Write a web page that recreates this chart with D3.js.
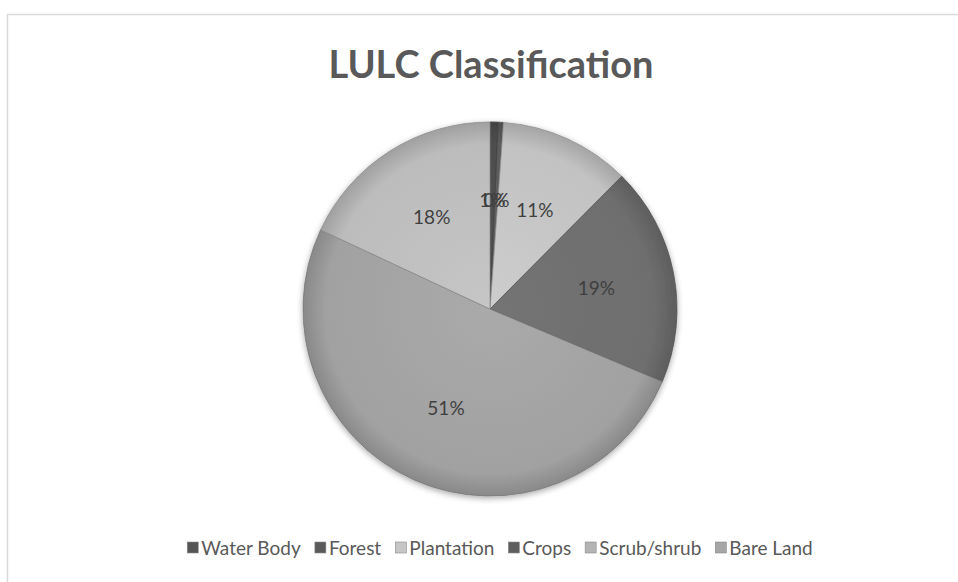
<!DOCTYPE html>
<html>
<head>
<meta charset="utf-8">
<script src="https://cdn.jsdelivr.net/npm/d3@7"></script>
<style>
  html, body { margin: 0; padding: 0; background: #fff; }
  #chart { width: 958px; height: 582px; overflow: hidden; }
</style>
</head>
<body>
<div id="chart"></div>
<script>
const categories = ["Water Body", "Forest", "Plantation", "Crops", "Scrub/shrub", "Bare Land"];
const shares = [0.7, 0.45, 11.3, 18.9, 50.6, 18.05];
const sliceColors = ["#4e4e4e", "#5c5c5c", "#c2c2c2", "#6e6e6e", "#a1a1a1", "#bcbcbc"];
const swatchColors = ["#555555", "#5a5a5a", "#c6c6c6", "#5e5e5e", "#b4b4b4", "#a6a6a6"];

const width = 958, height = 582;
const cx = 490, cy = 309, radius = 187;

const svg = d3.select("#chart")
  .append("svg")
  .attr("width", width)
  .attr("height", height);

const defs = svg.append("defs");

// soft shadow under the pie
const shadow = defs.append("filter").attr("id", "shadow")
  .attr("x", "-20%").attr("y", "-20%").attr("width", "140%").attr("height", "140%");
shadow.append("feGaussianBlur").attr("in", "SourceAlpha").attr("stdDeviation", 3);
shadow.append("feOffset").attr("dx", 0).attr("dy", 2).attr("result", "blur");
shadow.append("feComponentTransfer").append("feFuncA").attr("type", "linear").attr("slope", 0.35);
const merge = shadow.append("feMerge");
merge.append("feMergeNode");
merge.append("feMergeNode").attr("in", "SourceGraphic");

// one radial gradient per slice, lighter middle, darker rim
sliceColors.forEach((c, i) => {
  const g = defs.append("radialGradient")
    .attr("id", "grad" + i)
    .attr("gradientUnits", "userSpaceOnUse")
    .attr("cx", 0).attr("cy", 0).attr("r", radius);
  g.append("stop").attr("offset", "0%").attr("stop-color", d3.color(c).brighter(0.15));
  g.append("stop").attr("offset", "88%").attr("stop-color", c);
  g.append("stop").attr("offset", "100%").attr("stop-color", d3.color(c).darker(0.45));
});

// chart area border (runs off the right and bottom)
svg.append("rect")
  .attr("x", 7.5).attr("y", 14.5)
  .attr("width", 1000).attr("height", 1000)
  .attr("fill", "none")
  .attr("stroke", "#d9d9d9")
  .attr("stroke-width", 1.5);

svg.append("text")
  .attr("x", 491)
  .attr("y", 78)
  .attr("text-anchor", "middle")
  .style("font-family", "Lato, 'Open Sans', sans-serif")
  .style("font-weight", "bold")
  .style("font-size", "38px")
  .style("fill", "#595959")
  .text("LULC Classification");

const data = categories.map((c, i) => ({ name: c, value: shares[i], idx: i }));

const pie = d3.pie().sort(null).value(d => d.value);
const arcs = pie(data);

const arc = d3.arc().innerRadius(0).outerRadius(radius);
const labelArc = d3.arc().innerRadius(radius * 0.58).outerRadius(radius * 0.58);

const g = svg.append("g").attr("transform", `translate(${cx},${cy})`);

g.append("g").attr("filter", "url(#shadow)")
  .selectAll("path")
  .data(arcs)
  .join("path")
  .attr("d", arc)
  .attr("fill", d => `url(#grad${d.data.idx})`)
  .attr("stroke", d => d3.color(sliceColors[d.data.idx]).darker(0.8))
  .attr("stroke-width", 0.8)
  .attr("stroke-linejoin", "round");

g.selectAll("text.lbl")
  .data(arcs)
  .join("text")
  .attr("class", "lbl")
  .attr("transform", d => `translate(${labelArc.centroid(d)})`)
  .attr("text-anchor", "middle")
  .attr("dy", "0.35em")
  .style("font-family", "Lato, 'Open Sans', sans-serif")
  .style("font-size", "19px")
  .style("fill", "#404040")
  .text(d => Math.round(d.data.value) + "%");

// legend
const legend = svg.append("g").attr("transform", "translate(0,548)");
const items = legend.selectAll("g")
  .data(data)
  .join("g");
items.append("rect")
  .attr("x", 0).attr("y", -6)
  .attr("width", 11).attr("height", 11)
  .attr("fill", d => swatchColors[d.idx])
  .attr("stroke", "#8a8a8a")
  .attr("stroke-width", 0.6);
items.append("text")
  .attr("x", 14)
  .attr("dy", "0.35em")
  .style("font-family", "Lato, 'Open Sans', sans-serif")
  .style("font-size", "19px")
  .style("fill", "#595959")
  .text(d => d.name);

let offsets = [], xpos = 0;
items.each(function() {
  offsets.push(xpos);
  xpos += this.getBBox().width + 14;
});
const total = xpos - 14;
const start = 500 - total / 2;
items.attr("transform", (d, i) => `translate(${start + offsets[i]},0)`);
</script>
</body>
</html>
